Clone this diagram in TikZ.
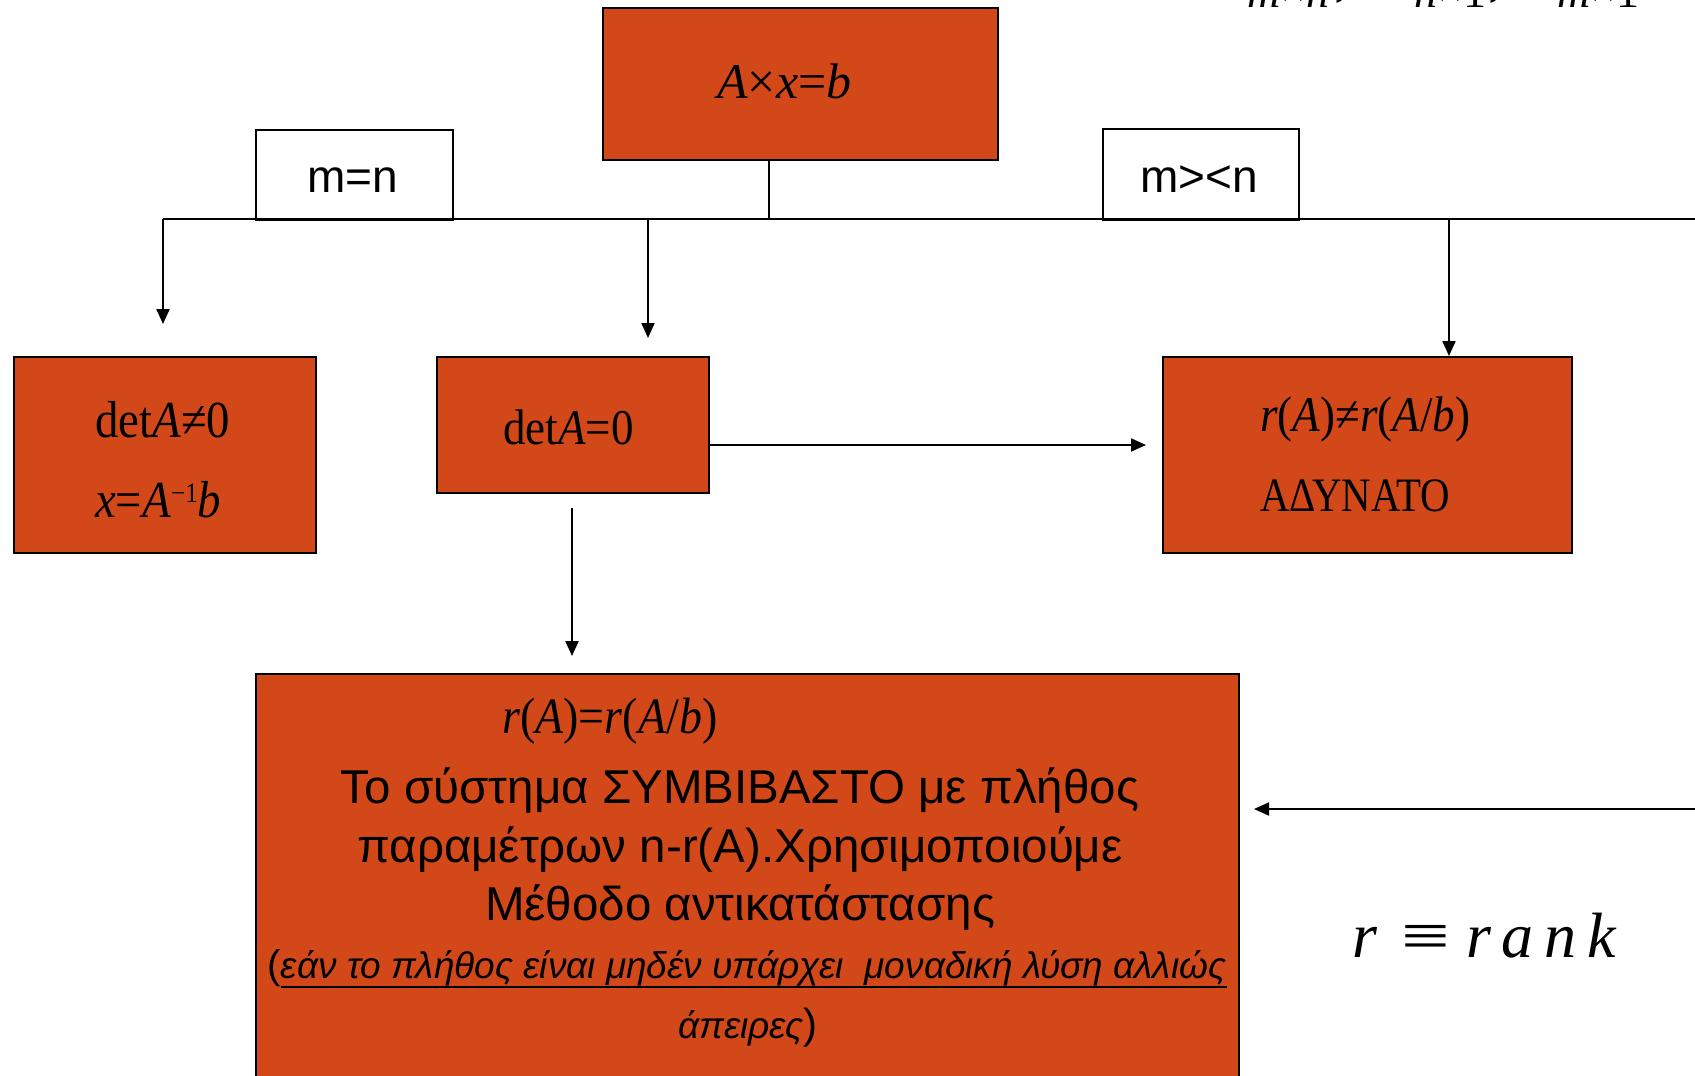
\documentclass[tikz,border=0pt]{standalone}
\usepackage{fontspec}
\usepackage{graphicx}
\setmainfont{Liberation Sans}
\newfontfamily\tms{Liberation Serif}
\newfontfamily\tmsn[FakeStretch=0.9]{Liberation Serif}
\newfontfamily\tmsc[FakeStretch=0.85]{Liberation Serif}
\usetikzlibrary{arrows.meta}
\definecolor{boxfill}{RGB}{210,72,24}
\newcommand{\fsz}[1]{\fontsize{#1}{#1}\selectfont}
\tikzset{
 box/.style={draw=black, line width=2pt, fill=boxfill, inner sep=0pt, anchor=north west},
 cond/.style={draw=black, line width=1.5pt, fill=white, inner sep=0pt, anchor=north west},
 txt/.style={inner sep=0pt, anchor=base west},
 ctxt/.style={inner sep=0pt, anchor=base},
 conn/.style={line width=2pt, draw=black},
 arr/.style={conn, -{Triangle[length=15pt,width=13pt]}},
}
\begin{document}
\begin{tikzpicture}[x=1pt,y=-1pt]
\useasboundingbox (0,0) rectangle (1695,1076);
% boxes
\node[box, minimum width=395pt, minimum height=152pt] (top) at (602,7) {};
\node[cond, minimum width=197pt, minimum height=90pt] (meqn) at (255,129) {};
\node[cond, minimum width=196pt, minimum height=91pt] (mneqn) at (1102,128) {};
\node[box, minimum width=302pt, minimum height=196pt] (inv) at (13,356) {};
\node[box, minimum width=272pt, minimum height=136pt] (sing) at (436,356) {};
\node[box, minimum width=409pt, minimum height=196pt] (imp) at (1162,356) {};
\node[box, minimum width=983pt, minimum height=430pt] (comp) at (255,673) {};
% connector coordinates
\coordinate (stemtop) at (769,159);
\coordinate (bus) at (769,219);
\coordinate (busL) at (163,219);
\coordinate (busR) at (1695,219);
\coordinate (tipL) at (163,324);
\coordinate (b2) at (648,219);
\coordinate (tip2) at (648,338);
\coordinate (b3) at (1449,219);
\coordinate (s1) at (708,445);
\coordinate (s1t) at (1146,445);
\coordinate (s2) at (572,508);
\coordinate (s2t) at (572,656);
\coordinate (r1) at (1695,809);
\coordinate (r1t) at (1254,809);
% connectors
\draw[conn] (stemtop) -- (bus);
\draw[conn] (busL) -- (busR);
\draw[arr] (busL) -- (tipL);
\draw[arr] (b2) -- (tip2);
\draw[arr] (b3) -- (b3 |- imp.north);
\draw[arr] (s1) -- (s1t);
\draw[arr] (s2) -- (s2t);
\draw[arr] (r1) -- (r1t);
% condition labels
\node[txt, font=\fsz{46}] (meqnt) at (307,192) {m=n};
\node[txt, font=\fsz{46}] (mneqnt) at (1140,192) {m><n};
% top
\node[txt, font=\tms\fsz{50}] (topt) at (717,98) {\textit{A}×\textit{x}=\textit{b}};
% left box
\node[txt, font=\tmsn\fsz{52}] (invt1) at (95,437) {det\textit{A}≠0};
\node[txt, font=\tmsn\fsz{52}] (invt2) at (95,517) {\textit{x}=\textit{A}\raisebox{15pt}{\fsz{28}−1}\textit{b}};
% singular
\node[txt, font=\tmsn\fsz{50}] (singt) at (503,444) {det\textit{A}=0};
% impossible
\node[txt, font=\tmsn\fsz{50}] (impt1) at (1260,431) {\textit{r}(\textit{A})≠\textit{r}(\textit{A}/\textit{b})};
\node[txt, font=\tmsc\fsz{48}] (impt2) at (1260,511) {ΑΔΥΝΑΤΟ};
% compatible
\node[txt, font=\tmsn\fsz{51}] (compt0) at (502,733) {\textit{r}(\textit{A})=\textit{r}(\textit{A}/\textit{b})};
\node[ctxt, font=\fsz{47.5}] (compt1) at (740,803) {Το σύστημα ΣΥΜΒΙΒΑΣΤΟ με πλήθος};
\node[ctxt, font=\fsz{47.5}] (compt2) at (740,862) {παραμέτρων n-r(A).Χρησιμοποιούμε};
\node[ctxt, font=\fsz{47.5}] (compt3) at (740,920) {Μέθοδο αντικατάστασης};
\node[txt, font=\fsz{40}] (lpar) at (267,978) {(};
\node[txt, font=\fsz{37}\itshape] (ital) at (lpar.base east) {εάν το πλήθος είναι μηδέν υπάρχει\ \ μοναδική λύση αλλιώς};
\draw[line width=2pt] ([yshift=-9pt]ital.base west) -- ([yshift=-9pt]ital.base east);
\node[txt, font=\fsz{37}\itshape] (ital2) at (678,1038) {άπειρες};
\node[txt, font=\fsz{42}] (rpar) at (ital2.base east) {)};
% rank note
\node[txt, font=\tms\fsz{64}] (rank) at (1352,957) {\textit{r}\hspace{24pt}\scalebox{1.35}[1]{≡}\hspace{16pt}\textit{r\kern11pt a\kern11pt n\kern11pt k}};
% cut-off top-right subscripts
\node[txt, font=\tms\fsz{46}] (sub1) at (1247,8) {\textit{m}×\textit{n}};
\node[txt, font=\tms\fsz{64}] (com1) at (1334,-6) {,};
\node[txt, font=\tms\fsz{46}] (sub2) at (1414,8) {\textit{n}×1};
\node[txt, font=\tms\fsz{64}] (com2) at (1488,-6) {,};
\node[txt, font=\tms\fsz{46}] (sub3) at (1557,8) {\textit{m}×1};
\end{tikzpicture}
\end{document}
